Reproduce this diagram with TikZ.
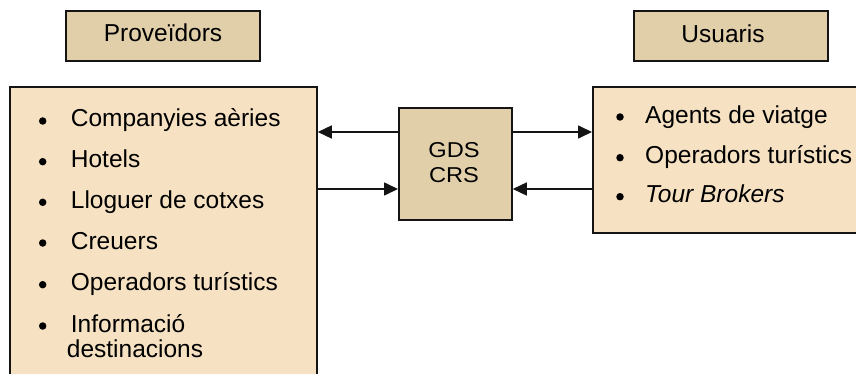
\documentclass[tikz,border=0pt]{standalone}
\usepackage{fontspec}
\setmainfont{Liberation Sans}
\usetikzlibrary{arrows.meta}
\definecolor{headfill}{RGB}{225,207,170}
\definecolor{listfill}{RGB}{246,226,195}
\definecolor{edge}{RGB}{20,20,20}
\begin{document}
\begin{tikzpicture}[x=1pt,y=-1pt,
  box/.style={draw=edge, line width=1.8pt, inner sep=0pt, anchor=north west},
  headbox/.style={box, fill=headfill},
  listbox/.style={box, fill=listfill},
  item/.style={anchor=base west, inner sep=0pt, font=\fontsize{24.5}{29}\selectfont},
  title/.style={item, anchor=base},
  core/.style={anchor=base, inner sep=0pt, font=\fontsize{21.5}{25}\selectfont, xscale=1.1},
  dot/.style={circle, fill=black, inner sep=0pt, minimum size=7.5pt},
  arr/.style={draw=edge, line width=1.6pt, -{Triangle[length=14pt,width=13pt]}}
]
\useasboundingbox (0,0) rectangle (856,374);
\clip (0,0) rectangle (856,374);

% headings
\node[headbox, minimum width=194pt, minimum height=50pt] (provhead) at (65,10) {};
\node[title] (provtxt) at (163,41.7) {Proveïdors};
\node[headbox, minimum width=194pt, minimum height=50pt] (userhead) at (633,10) {};
\node[title] (usertxt) at (723,43) {Usuaris};

% list boxes and the central system
\node[listbox, minimum width=307pt, minimum height=300pt] (prov) at (9,86) {};
\node[listbox, minimum width=290pt, minimum height=146pt] (user) at (592,86) {};
\node[headbox, minimum width=113pt, minimum height=112pt] (gds) at (398,107) {};
\node[core] (gdsA) at (454,157.3) {GDS};
\node[core] (gdsB) at (454,182.3) {CRS};

% suppliers
\node[dot] (pb1) at (42.7,121) {};
\node[item] (p1) at (70.7,127) {Companyies aèries};
\node[dot] (pb2) at (42.7,161.7) {};
\node[item] (p2) at (70.7,167.7) {Hotels};
\node[dot] (pb3) at (42.7,202.3) {};
\node[item] (p3) at (70.7,208.3) {Lloguer de cotxes};
\node[dot] (pb4) at (42.7,243) {};
\node[item] (p4) at (70.7,249) {Creuers};
\node[dot] (pb5) at (42.7,284.7) {};
\node[item] (p5) at (70.7,290.7) {Operadors turístics};
\node[dot] (pb6) at (42.7,326) {};
\node[item] (p6) at (70.7,332) {Informació};
\node[item] (p6b) at (66.7,357) {destinacions};

% users
\node[dot] (ub1) at (620,117) {};
\node[item] (u1) at (645,123.3) {Agents de viatge};
\node[dot] (ub2) at (620,157.7) {};
\node[item] (u2) at (645,164) {Operadors turístics};
\node[dot] (ub3) at (620,196.7) {};
\node[item] (u3) at (645,203) {\itshape Tour Brokers};

% connectors
\coordinate (upper) at (0,132);
\coordinate (lower) at (0,189);
\draw[arr] (gds.west |- upper) -- (prov.east |- upper);
\draw[arr] (gds.east |- upper) -- (user.west |- upper);
\draw[arr] (prov.east |- lower) -- (gds.west |- lower);
\draw[arr] (user.west |- lower) -- (gds.east |- lower);
\end{tikzpicture}
\end{document}
